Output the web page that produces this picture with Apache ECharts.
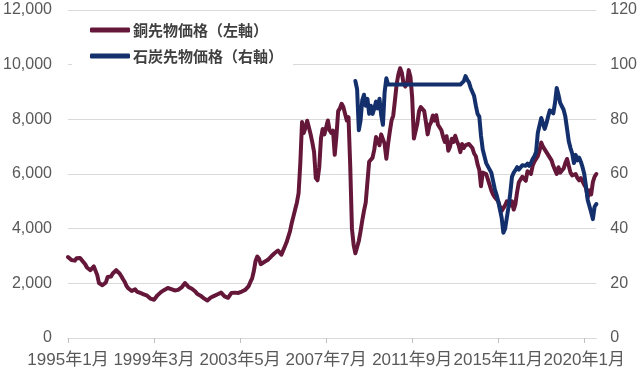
<!DOCTYPE html>
<html>
<head>
<meta charset="utf-8">
<script src="https://cdn.jsdelivr.net/npm/echarts@6/dist/echarts.min.js"></script>
<style>
html,body{margin:0;padding:0;background:#fff;}
#chart{width:640px;height:371px;}
</style>
</head>
<body>
<div id="chart"></div>
<script>
// Category axis: monthly, 1995年1月 .. 2020年8月
const startYear = 1995;
const monthCount = 308;
const categories = [];
for (let k = 0; k < monthCount; k++) {
  categories.push((startYear + Math.floor(k / 12)) + '年' + (k % 12 + 1) + '月');
}

const seriesNames = ['銅先物価格（左軸）', '石炭先物価格（右軸）'];

// Copper futures price (left axis), monthly from 1995/1
const copper = [
  2960, 2900, 2850, 2790, 2830, 2920, 2970, 2930, 2850, 2780, 2700, 2580, // 1995
  2520, 2480, 2500, 2620, 2640, 2300, 2010, 1960, 1930, 1980, 2030, 2230, // 1996
  2180, 2250, 2360, 2400, 2480, 2460, 2360, 2260, 2150, 2050, 1900, 1820, // 1997
  1760, 1720, 1730, 1780, 1700, 1660, 1650, 1620, 1600, 1580, 1550, 1500, // 1998
  1440, 1390, 1400, 1420, 1560, 1630, 1680, 1750, 1760, 1800, 1830, 1870, // 1999
  1790, 1720, 1740, 1750, 1760, 1800, 1850, 1930, 2010, 1960, 1870, 1850, // 2000
  1800, 1750, 1700, 1620, 1570, 1550, 1500, 1450, 1420, 1370, 1350, 1480, // 2001
  1520, 1540, 1570, 1600, 1620, 1660, 1700, 1520, 1450, 1470, 1510, 1650, // 2002
  1720, 1660, 1630, 1650, 1680, 1700, 1720, 1760, 1800, 1900, 2050, 2180, // 2003
  2450, 2820, 2980, 2900, 2700, 2680, 2780, 2800, 2850, 2920, 2980, 3050, // 2004
  3100, 3150, 3200, 3220, 3050, 3100, 3350, 3500, 3700, 3900, 4200, 4450, // 2005
  4700, 4950, 5300, 6400, 7900, 7500, 7700, 7950, 7700, 7450, 7150, 6800, // 2006
  5850, 5770, 6250, 7300, 7650, 7450, 7700, 7960, 7600, 7500, 7590, 6700, // 2007
  7400, 8300, 8400, 8570, 8450, 8400, 7960, 8080, 6300, 4000, 3400, 3100, // 2008
  3150, 3550, 3900, 4300, 4650, 4950, 5700, 6450, 6500, 6600, 6900, 7350, // 2009
  7300, 7050, 7450, 7500, 7100, 6560, 7100, 7550, 7950, 8140, 8700, 9300, // 2010
  9650, 9870, 9700, 9300, 9200, 9300, 9800, 9550, 8800, 7300, 7300, 7850, // 2011
  8300, 8450, 8440, 8300, 7900, 7450, 7770, 7900, 8140, 7950, 8150, 7800, // 2012
  7700, 7600, 7350, 7170, 7380, 6850, 7000, 7290, 7170, 7400, 7200, 7050, // 2013
  6800, 7100, 6950, 7050, 6980, 7100, 7120, 6950, 6750, 6650, 6350, 6150, // 2014
  5550, 6050, 6100, 6000, 5800, 5600, 5400, 5250, 5150, 5100, 5000, 4800, // 2015
  4650, 4680, 4850, 5000, 4950, 4850, 5000, 4700, 4900, 5350, 5700, 5800, // 2016
  5900, 5850, 5750, 6100, 6050, 6000, 6300, 6450, 6550, 6650, 6850, 7150, // 2017
  7000, 6900, 6800, 6700, 6600, 6500, 6300, 6150, 6000, 6250, 6050, 6100, // 2018
  6200, 6400, 6550, 6500, 6050, 5950, 5900, 6000, 5850, 5770, 5850, 5800, // 2019
  5600, 5500, 5150, 5400, 5250, 5700, 5900, 6000                          // 2020
];

// Coal futures price (right axis), monthly from 2008/12 (category index 167)
const coalStartIndex = 167;
const coal = [
  94, 91, 76, 79.5, 87, 89, 85, 87.5, 82, 85, 82, 84, 86.5, 84, 87.5, 81.5, 78, 90, 95,
  92.7, 92.7, 92.7, 92.7, 92.7, 92.7, 92.7, 92.7, 92.7, 92.7,
  92.7, 92.7, 92.7, 92.7, 92.7, 92.7, 92.7, 92.7, 92.7, 92.7,
  92.7, 92.7, 92.7, 92.7, 92.7, 92.7, 92.7, 92.7, 92.7, 92.7,
  92.7, 92.7, 92.7, 92.7, 92.7, 92.7, 92.7, 92.7, 92.7, 92.7,
  92.7, 92.7, 92.7,
  93, 94, 95.8, 94.5, 93.5, 91.5, 90, 88.5, 85, 82, 81,
  74, 69, 66.5, 64, 62.8, 62.6, 60.5, 57.5, 54.5, 52.5, 50, 47,
  44, 38.5, 40, 44, 48, 53, 59, 60.5, 61.4, 62.5, 61.6, 62,
  63.2, 62.8, 63, 63.8, 63, 64, 65.5, 66.5, 68, 75, 75, 80.5,
  78.5, 76.5, 78.5, 81, 83.3, 83.5, 82.2, 86, 91.5, 89, 86, 86,
  83.5, 81, 76.5, 72, 69.5, 67.5, 64, 67, 65, 66, 64.5, 62.5,
  60, 55.5, 50.5, 51, 46, 43.5, 48, 49
];

const leftTicks = {min: 0, max: 12000, interval: 2000};
const rightTicks = {min: 0, max: 120, interval: 20};

const coalData = categories.map((c, k) => (k < coalStartIndex ? null : coal[k - coalStartIndex]));

const FONT = '"Liberation Sans", "Noto Sans CJK JP", sans-serif';
const chart = echarts.init(document.getElementById('chart'), null, {renderer: 'canvas'});
chart.setOption({
  backgroundColor: '#ffffff',
  animation: false,
  grid: {left: 68, right: 42, top: 10, bottom: 33, containLabel: false},
  legend: {
    data: seriesNames,
    orient: 'vertical',
    left: 72,
    top: 15,
    padding: [6, 10, 8, 18],
    backgroundColor: '#ffffff',
    itemGap: 8,
    itemWidth: 40,
    itemHeight: 5,
    icon: 'roundRect',
    textStyle: {fontFamily: '"Noto Sans CJK JP", sans-serif', fontSize: 15, fontWeight: 'bold', color: '#404040', lineHeight: 18, padding: [0, 0, 0, -2]}
  },
  xAxis: {
    type: 'category',
    data: categories,
    boundaryGap: false,
    axisLine: {lineStyle: {color: '#D9D9D9', width: 1}},
    axisTick: {show: true, interval: 49, length: 5, lineStyle: {color: '#BFBFBF'}},
    axisLabel: {interval: 49, hideOverlap: false, margin: 14, fontSize: 17, color: '#595959', fontFamily: FONT},
    splitLine: {show: false}
  },
  yAxis: [
    {
      type: 'value', min: leftTicks.min, max: leftTicks.max, interval: leftTicks.interval,
      axisLine: {show: false}, axisTick: {show: false},
      splitLine: {lineStyle: {color: '#D9D9D9', width: 1}},
      axisLabel: {margin: 16, fontSize: 16, color: '#595959', fontFamily: FONT,
        formatter: v => v.toLocaleString('en-US')}
    },
    {
      type: 'value', min: rightTicks.min, max: rightTicks.max, interval: rightTicks.interval,
      axisLine: {show: false}, axisTick: {show: false}, splitLine: {show: false},
      axisLabel: {margin: 14, fontSize: 16, color: '#595959', fontFamily: FONT}
    }
  ],
  series: [
    {
      name: seriesNames[0], type: 'line', data: copper, yAxisIndex: 0,
      showSymbol: false, symbol: 'none',
      lineStyle: {color: '#641739', width: 4, join: 'round', cap: 'round'},
      itemStyle: {color: '#641739'}
    },
    {
      name: seriesNames[1], type: 'line', data: coalData, yAxisIndex: 1,
      showSymbol: false, symbol: 'none', connectNulls: false,
      lineStyle: {color: '#14306C', width: 4, join: 'round', cap: 'round'},
      itemStyle: {color: '#14306C'}
    }
  ]
});
</script>
</body>
</html>
